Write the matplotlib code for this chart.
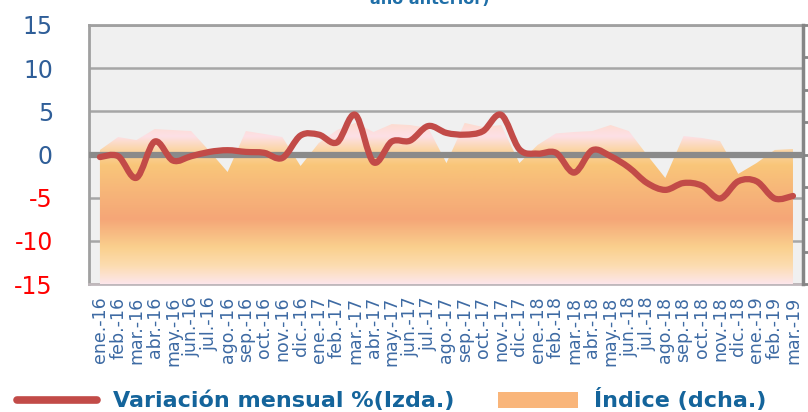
import numpy as np
import matplotlib
matplotlib.use("Agg")
import matplotlib.pyplot as plt
from matplotlib.path import Path
from matplotlib.patches import PathPatch, Patch
from matplotlib.lines import Line2D
from matplotlib.colors import LinearSegmentedColormap
import matplotlib.transforms as mtransforms

plt.rcParams["axes.unicode_minus"] = False

# Data
meses = ["ene.", "feb.", "mar.", "abr.", "may.", "jun.",
         "jul.", "ago.", "sep.", "oct.", "nov.", "dic."]
etiquetas = [f"{m}-{a}" for a in ("16", "17", "18") for m in meses] + \
            ["ene.-19", "feb.-19", "mar.-19"]

variacion = [-0.3, -0.2, -2.7, 1.5, -0.7, -0.2, 0.3, 0.5, 0.3, 0.2, -0.4, 2.2,
             2.3, 1.4, 4.6, -0.9, 1.5, 1.6, 3.3, 2.5, 2.3, 2.7, 4.6, 0.6,
             0.1, 0.2, -2.1, 0.5, -0.2, -1.5, -3.3, -4.1, -3.3, -3.6, -5.1, -3.1,
             -3.1, -5.1, -4.8]

indice = [82.8, 90.8, 88.9, 95.7, 95.1, 94.5, 82.2, 69.2, 94.5, 92.7, 90.8, 72.9,
          87.1, 95.1, 99.5, 93.9, 98.8, 98.2, 96.4, 74.7, 99.5, 97.0, 98.2, 74.7,
          85.9, 93.0, 93.9, 94.5, 98.2, 94.5, 79.7, 65.5, 91.4, 90.2, 88.3, 68.0,
          74.7, 82.8, 83.4]

rojo = "#c24b48"
azul = "#2f5e98"
azul_txt = "#14649b"

x = np.arange(len(etiquetas))

fig = plt.figure(figsize=(8.08, 4.12), dpi=100)
ax = fig.add_axes([89 / 808, 128 / 412, 714 / 808, 259 / 412])
ax.set_facecolor("#f0f0f0")
ax2 = ax.twinx()
ax2.patch.set_visible(False)

ax.set_xlim(-0.6, len(x) - 0.45)
ax.set_ylim(-15, 15)
ax2.set_ylim(0, 160)

# left axis grid
ax.set_yticks(range(-15, 16, 5))
ax.yaxis.grid(True, color="#a6a6a6", lw=1.8)
ax.tick_params(axis="y", length=0, pad=26, labelsize=17)
for lab, v in zip(ax.get_yticklabels(), range(-15, 16, 5)):
    lab.set_color("red" if v < 0 else azul)

ax.set_xticks(x)
ax.set_xticklabels(etiquetas, rotation=90, color="#3d6aa3", fontsize=12.5)
ax.tick_params(axis="x", length=0, pad=9)

for s in ("left", "top"):
    ax.spines[s].set_color("#a0a0a0")
    ax.spines[s].set_linewidth(2)
ax.spines["bottom"].set_color("#c0b8bc")
ax.spines["bottom"].set_linewidth(2)
ax.spines["right"].set_visible(False)
for s in ("left", "top", "bottom"):
    ax2.spines[s].set_visible(False)
ax2.spines["right"].set_color("#858585")
ax2.spines["right"].set_linewidth(2.5)
ax2.set_yticks(range(0, 161, 20))
ax2.tick_params(axis="y", direction="out", length=5, width=2,
                color="#858585", labelright=False)

# gradient area (indice)
area = ax2.fill_between(x, 0, indice, facecolor="none", edgecolor="none")
stops = [(0.0, "#fde6ea"), (0.07, "#fcdcb0"), (0.14, "#fad08e"),
         (0.25, "#f5a677"), (0.36, "#f7b679"), (0.46, "#f9c679"),
         (0.52, "#fbd6a8"), (0.57, "#fde0e6"), (0.62, "#fddcd0"),
         (1.0, "#fddcd0")]
cmap = LinearSegmentedColormap.from_list("grad", stops)
grad = np.linspace(0, 1, 256).reshape(-1, 1)
im = ax2.imshow(grad, cmap=cmap, origin="lower", aspect="auto",
                extent=(ax.get_xlim()[0], ax.get_xlim()[1], 0, 160),
                interpolation="bilinear", zorder=1)
im.set_clip_path(area.get_paths()[0], transform=ax2.transData)
ax2.set_xlim(ax.get_xlim())
ax2.set_ylim(0, 160)

# zero line
blend = mtransforms.blended_transform_factory(ax2.transAxes, ax.transData)
ax2.add_line(Line2D([0, 1], [0, 0], color="#8a8a8a", lw=4.5,
                    transform=blend, zorder=3))

# smoothed line (Catmull-Rom as Bezier curves)
pts = np.column_stack([x, variacion]).astype(float)
verts = [pts[0]]
codes = [Path.MOVETO]
n = len(pts)
for i in range(n - 1):
    p0 = pts[max(i - 1, 0)]
    p1 = pts[i]
    p2 = pts[i + 1]
    p3 = pts[min(i + 2, n - 1)]
    c1 = p1 + (p2 - p0) / 6.0
    c2 = p2 - (p3 - p1) / 6.0
    verts += [c1, c2, p2]
    codes += [Path.CURVE4] * 3
linea = PathPatch(Path(verts, codes), fill=False, edgecolor=rojo, lw=4.5,
                  capstyle="round", joinstyle="round",
                  transform=ax.transData, zorder=4)
ax2.add_patch(linea)

# title fragment (cut at top)
fig.text(430 / 808, 1 - 4 / 412, "año anterior)", ha="center", va="baseline",
         fontsize=11.5, fontweight="bold", color="#1f6fa8")

# legend
handles = [Line2D([], [], color=rojo, lw=5.5, solid_capstyle="round"),
           Patch(facecolor="#f9b57a", edgecolor="none")]
fig.legend(handles, ["Variación mensual %(Izda.)", "Índice (dcha.)"],
           loc="center left", bbox_to_anchor=(17 / 808, 1 - 400 / 412),
           ncol=2, frameon=False, handlelength=3.6, handletextpad=0.7,
           columnspacing=2.0, borderpad=0, borderaxespad=0,
           prop={"weight": "bold", "size": 16}, labelcolor=azul_txt)

fig.savefig("out.png", dpi=100)
